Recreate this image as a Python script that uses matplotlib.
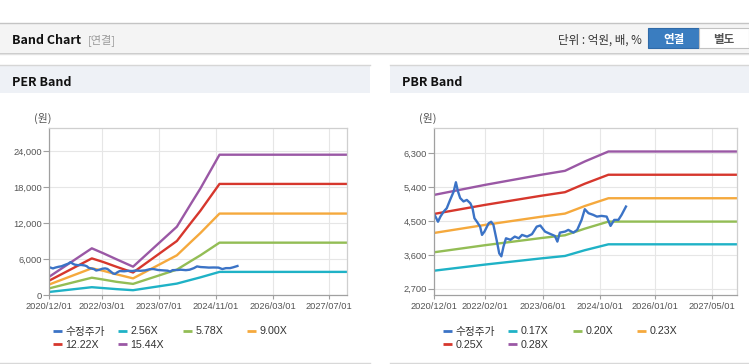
import numpy as np
import matplotlib
matplotlib.use('Agg')
import matplotlib.pyplot as plt
import matplotlib.dates as mdates
from matplotlib.patches import Rectangle
from matplotlib.lines import Line2D
from matplotlib.ticker import FuncFormatter

W, H = 749, 364

# ---------------- data ----------------
price_dates = ['2020-12-01', '2021-01-01', '2021-01-22', '2021-02-18', '2021-03-16', '2021-04-13',
               '2021-05-13', '2021-06-01', '2021-06-19', '2021-07-07', '2021-08-04', '2021-09-01',
               '2021-10-01', '2021-10-19', '2021-11-04', '2021-11-25', '2021-12-22', '2022-01-07',
               '2022-01-28', '2022-03-04', '2022-03-25', '2022-04-13', '2022-05-13', '2022-06-01',
               '2022-06-19', '2022-07-07', '2022-07-28', '2022-09-04', '2022-10-10', '2022-11-13',
               '2022-12-10', '2023-01-22', '2023-03-04', '2023-04-13', '2023-05-13', '2023-06-22',
               '2023-08-04', '2023-09-13', '2023-10-04', '2023-10-25', '2023-12-07', '2024-01-04',
               '2024-02-16', '2024-03-19', '2024-04-25', '2024-05-22', '2024-06-22', '2024-08-01',
               '2024-09-01', '2024-10-10', '2024-11-22', '2024-12-25', '2025-01-25', '2025-03-01',
               '2025-03-28', '2025-05-04']
price_values = [4680, 4480, 4620, 4750, 4840, 5060,
                5280, 5530, 5280, 5110, 5020, 5060,
                4970, 4840, 4575, 4480, 4350, 4130,
                4220, 4440, 4480, 4400, 3950, 3640,
                3560, 3820, 4040, 4000, 4085, 4040,
                4130, 4085, 4150, 4350, 4380, 4218,
                4157, 4103, 3952, 4191, 4218, 4263,
                4191, 4263, 4529, 4814, 4708, 4663,
                4617, 4636, 4617, 4370, 4529, 4529,
                4663, 4884]

per_dates = ['2020-12-01', '2021-12-01', '2022-03-10', '2022-07-01', '2022-11-20',
             '2023-12-01', '2024-04-01', '2024-06-20', '2024-12-01', '2027-12-10']
per_256 = [560, 1350, 1200, 1030, 850, 1950, 2580, 2990, 3900, 3900]
per_578 = [1161, 2931, 2621, 2246, 1900, 4279, 5728, 6664, 8772, 8772]
per_900 = [1807, 4500, 4080, 3497, 2820, 6663, 8918, 10376, 13620, 13620]
per_1222 = [2454, 6150, 5541, 4749, 3800, 9047, 12110, 14089, 18560, 18560]
per_1544 = [3100, 7830, 7000, 6000, 4770, 11430, 15300, 17800, 23430, 23430]

pbr_dates = ['2020-12-01', '2022-02-01', '2023-05-22', '2023-12-07', '2024-05-22',
             '2024-12-07', '2027-12-10']
pbr_017 = [3179, 3341, 3506, 3570, 3723, 3880, 3880]
pbr_020 = [3669, 3856, 4047, 4120, 4296, 4484, 4484]
pbr_023 = [4183, 4396, 4614, 4697, 4898, 5105, 5105]
pbr_025 = [4689, 4928, 5172, 5266, 5491, 5730, 5730]
pbr_028 = [5195, 5460, 5730, 5834, 6083, 6348, 6348]

price_label = '수정주가'
per_labels = ['2.56X', '5.78X', '9.00X', '12.22X', '15.44X']
pbr_labels = ['0.17X', '0.20X', '0.23X', '0.25X', '0.28X']

per_ticks = ['2020-12-01', '2022-03-01', '2023-07-01', '2024-11-01', '2026-03-01', '2027-07-01']
pbr_ticks = ['2020-12-01', '2022-02-01', '2023-06-01', '2024-10-01', '2026-01-01', '2027-05-01']
per_yticks = [0, 6000, 12000, 18000, 24000]
pbr_yticks = [2700, 3600, 4500, 5400, 6300]

# ---------------- style ----------------
c_price = '#3b73c6'
band_colors = ['#1fb2c6', '#93bd55', '#f5a93d', '#d6372d', '#9a58a5']
KR = ['Noto Sans CJK KR', 'DejaVu Sans']
NUM = ['Liberation Sans', 'Noto Sans CJK KR', 'DejaVu Sans']

fig = plt.figure(figsize=(W / 100, H / 100), dpi=100)
fig.patch.set_facecolor('white')


def fx(x):
    return x / W


def fy(y):
    return 1 - y / H


def rect(x0, y0, x1, y1, fc, ec='none', lw=0, z=0):
    fig.patches.append(Rectangle((fx(x0), fy(y1)), fx(x1) - fx(x0), fy(y0) - fy(y1),
                                 transform=fig.transFigure, facecolor=fc, edgecolor=ec,
                                 linewidth=lw, zorder=z))


def hline(x0, x1, y, color, lw=1.0):
    fig.add_artist(Line2D([fx(x0), fx(x1)], [fy(y), fy(y)], transform=fig.transFigure,
                          color=color, linewidth=lw))


# page header
hline(0, W, 22.5, '#c4c4c4', 1.0)
rect(0, 23, W, 52, '#f4f4f4')
hline(0, W, 52.5, '#c8c8c8', 1.0)
hline(0, W, 53.5, '#e2e2e2', 1.0)
fig.text(fx(12), fy(43.5), 'Band Chart', family=KR, fontsize=9, fontweight='bold',
         color='#111111', va='baseline')
fig.text(fx(88), fy(43.5), '[연결]', family=KR, fontsize=8, color='#9a9a9a', va='baseline')
fig.text(fx(642), fy(43.5), '단위 : 억원, 배, %', family=KR, fontsize=8.3, color='#333333',
         va='baseline', ha='right')
rect(648, 28, 699, 48, '#3a7dc0', ec='#2f6aa8', lw=0.8, z=1)
rect(699, 28, 748.5, 48, '#ffffff', ec='#c2c2c2', lw=0.8, z=1)
fig.text(fx(673.5), fy(43), '연결', family=KR, fontsize=8.3, fontweight='bold',
         color='white', va='baseline', ha='center', zorder=3)
fig.text(fx(724), fy(43), '별도', family=KR, fontsize=8.3, fontweight='bold',
         color='#555555', va='baseline', ha='center', zorder=3)

# panels
for (px0, px1, title) in [(0, 370, 'PER Band'), (390, W, 'PBR Band')]:
    hline(px0, px1, 64.5, '#d6d6d6', 1.0)
    rect(px0, 65, px1, 93, '#eef1f6')
    hline(px0, px1, 362.5, '#d8d8d8', 1.0)
    fig.text(fx(px0 + 12), fy(86), title, family=KR, fontsize=9, fontweight='bold',
             color='#111111', va='baseline')


def setup_axes(ax, xlim, ticks, yticks, ylim):
    ax.set_xlim(mdates.datestr2num(xlim[0]), mdates.datestr2num(xlim[1]))
    ax.set_ylim(*ylim)
    ax.set_xticks([mdates.datestr2num(t) for t in ticks])
    ax.set_xticklabels([t.replace('-', '/') for t in ticks])
    ax.set_yticks(yticks)
    ax.yaxis.set_major_formatter(FuncFormatter(lambda v, p: f'{int(v):,}'))
    ax.grid(True, color='#e6e6e6', linewidth=0.8)
    ax.set_axisbelow(True)
    for s in ['top', 'right']:
        ax.spines[s].set_color('#cfcfcf')
    for s in ['left', 'bottom']:
        ax.spines[s].set_color('#a0a0a0')
    for s in ax.spines.values():
        s.set_linewidth(0.9)
    ax.tick_params(axis='x', length=3, width=0.8, color='#a0a0a0', pad=1.5,
                   labelsize=6.7, labelcolor='#555555')
    ax.tick_params(axis='y', length=4, width=0.8, color='#a0a0a0', pad=1,
                   labelsize=6.7, labelcolor='#555555')
    for lab in ax.get_xticklabels() + ax.get_yticklabels():
        lab.set_family(NUM)
    ax.set_facecolor('white')


def draw_legend(x0, labels, colors):
    cols = [0, 65, 130, 194]
    rows = [330.5, 343.5]
    for i, (lab, col) in enumerate(zip(labels, colors)):
        r, c = divmod(i, 4)
        xm = x0 + cols[c]
        ym = rows[r]
        fig.add_artist(Line2D([fx(xm), fx(xm + 9.5)], [fy(ym), fy(ym)],
                              transform=fig.transFigure, color=col, linewidth=2.0,
                              solid_capstyle='butt'))
        fig.text(fx(xm + 12.5), fy(ym + 4), lab, family=NUM, fontsize=7.7,
                 color='#333333', va='baseline')


# PER axes
ax1 = fig.add_axes([fx(49.3), fy(295.3), (347.3 - 49.3) / W, (295.3 - 128.3) / H])
pdates = mdates.datestr2num(price_dates)
perd = mdates.datestr2num(per_dates)
for vals, col in zip([per_256, per_578, per_900, per_1222, per_1544], band_colors):
    ax1.plot(perd, vals, color=col, linewidth=1.7)
ax1.plot(pdates, price_values, color=c_price, linewidth=1.7)
setup_axes(ax1, ('2020-12-01', '2027-12-03'), per_ticks, per_yticks, (0, 27830))
fig.text(fx(43), fy(121.5), '(원)', family=KR, fontsize=7.8, color='#555555',
         ha='center', va='baseline')
draw_legend(52.7, [price_label] + per_labels, [c_price] + band_colors)

# PBR axes
ax2 = fig.add_axes([fx(434.3), fy(295.3), (737.3 - 434.3) / W, (295.3 - 128.3) / H])
pbrd = mdates.datestr2num(pbr_dates)
for vals, col in zip([pbr_017, pbr_020, pbr_023, pbr_025, pbr_028], band_colors):
    ax2.plot(pbrd, vals, color=col, linewidth=1.7)
ax2.plot(pdates, price_values, color=c_price, linewidth=1.7)
setup_axes(ax2, ('2020-12-01', '2027-11-28'), pbr_ticks, pbr_yticks, (2524, 6965))
fig.text(fx(428), fy(121.5), '(원)', family=KR, fontsize=7.8, color='#555555',
         ha='center', va='baseline')
draw_legend(442.7, [price_label] + pbr_labels, [c_price] + band_colors)

fig.savefig('out.png', dpi=100, facecolor='white')
